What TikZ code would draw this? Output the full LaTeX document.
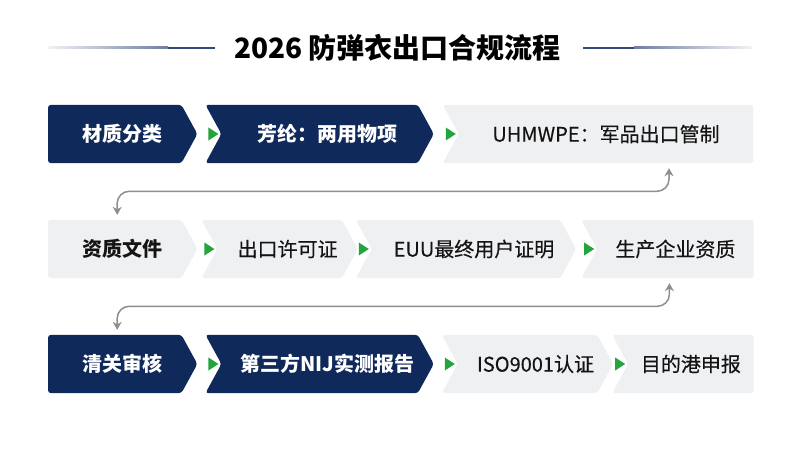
\documentclass[tikz,border=0pt]{standalone}
\usepackage{fontspec}
\setmainfont{Noto Sans CJK SC}
\usepackage{tikz}
\usepackage{xcolor}
\usetikzlibrary{positioning,backgrounds,arrows.meta}
\definecolor{navy}{HTML}{10295B}
\definecolor{paper}{HTML}{EFF0F2}
\definecolor{ink}{HTML}{141414}
\definecolor{flowgreen}{HTML}{23A43C}
\definecolor{linkgray}{HTML}{8E8E8E}
\definecolor{rulenavy}{HTML}{34477A}
\definecolor{rulefade}{HTML}{F1F2F6}
\tikzset{
  stage/.style={rectangle,inner sep=0pt,minimum height=58pt,
    font=\fontsize{20}{24}\selectfont\addfontfeature{FakeBold=0.35}},
  darkbox/.style={stage,text=white,font=\fontsize{20}{24}\selectfont\bfseries},
  lightbox/.style={stage,text=ink},
  link/.style={draw=linkgray,line width=1.5pt,rounded corners=12pt,
    {Stealth[length=8pt,width=9pt]}-{Stealth[length=8pt,width=9pt]},
    shorten <=5pt,shorten >=5pt}
}
% chevron outlines behind the stage nodes
\newcommand{\chevfirst}[2]{\fill[#1,rounded corners=3pt] (#2.north west)
  -- ([xshift=-16pt]#2.north east) -- (#2.east)
  -- ([xshift=-16pt]#2.south east) -- (#2.south west) -- cycle;}
\newcommand{\chevmid}[2]{\fill[#1,rounded corners=3pt] ([xshift=-16pt]#2.north west)
  -- ([xshift=-16pt]#2.north east) -- (#2.east)
  -- ([xshift=-16pt]#2.south east) -- ([xshift=-16pt]#2.south west)
  -- (#2.west) -- cycle;}
\newcommand{\chevlast}[2]{\fill[#1,rounded corners=3pt] ([xshift=-16pt]#2.north west)
  -- (#2.north east) -- (#2.south east) -- ([xshift=-16pt]#2.south west)
  -- (#2.west) -- cycle;}
\begin{document}
\begin{tikzpicture}[x=1pt,y=-1pt,node distance=24pt]
  \useasboundingbox (0,0) rectangle (800,449);
  % title
  \node[font=\fontsize{28}{32}\selectfont\bfseries,text=black] (title) at (397.5,48) {2026 防弹衣出口合规流程};
  \shade[left color=rulefade,right color=rulenavy!70] (48,47) rectangle (168,49);
  \fill[rulenavy] (168,47) rectangle (215,49);
  \fill[rulenavy] (583,47) rectangle (634,49);
  \shade[left color=rulenavy!70,right color=rulefade] (634,47) rectangle (752,49);
  % row 1
  \node[darkbox,minimum width=149pt,anchor=west] (mat) at (48,134) {材质分类};
  \node[darkbox,minimum width=212pt] (ara) [right = of mat] {芳纶：两用物项};
  \node[lightbox,minimum width=294pt] (uhm) [right = 25pt of ara] {UHMWPE：军品出口管制};
  % row 2
  \node[lightbox,minimum width=149pt,anchor=west,font=\fontsize{20}{24}\selectfont\bfseries] (doc) at (48,249) {资质文件};
  \node[lightbox,minimum width=140pt] (lic) [right = 20pt of doc] {出口许可证};
  \node[lightbox,minimum width=204pt] (euu) [right = 14pt of lic] {EUU最终用户证明};
  \node[lightbox,minimum width=156pt] (fac) [right = 21pt of euu] {生产企业资质};
  % row 3
  \node[darkbox,minimum width=149pt,anchor=west] (clr) at (48,364) {清关审核};
  \node[darkbox,minimum width=212pt] (nij) [right = of clr] {第三方NIJ实测报告};
  \node[lightbox,minimum width=155pt] (iso) [right = of nij] {ISO9001认证};
  \node[lightbox,minimum width=125pt] (port) [right = 15pt of iso] {目的港申报};
  \begin{scope}[on background layer]
    \fill[white] (0,0) rectangle (800,449);
    \chevfirst{navy}{mat} \chevmid{navy}{ara} \chevlast{paper}{uhm}
    \chevfirst{paper}{doc} \chevmid{paper}{lic} \chevmid{paper}{euu} \chevlast{paper}{fac}
    \chevfirst{navy}{clr} \chevmid{navy}{nij} \chevmid{paper}{iso} \chevlast{paper}{port}
  \end{scope}
  % green flow marks
  \foreach \n in {ara,uhm,lic,euu,fac,nij,iso,port}
    \fill[flowgreen] ([xshift=-3pt]\n.west) -- ++(-10pt,6.5pt) -- ++(0pt,-13pt) -- cycle;
  % row links
  \draw[link] ([xshift=-5.5pt]doc.north) -- ++(0,28.5pt) -| ([xshift=63pt]uhm.south);
  \draw[link] ([xshift=-5.5pt]clr.north) -- ++(0,28.5pt) -| ([xshift=-6pt]fac.south);
\end{tikzpicture}
\end{document}
